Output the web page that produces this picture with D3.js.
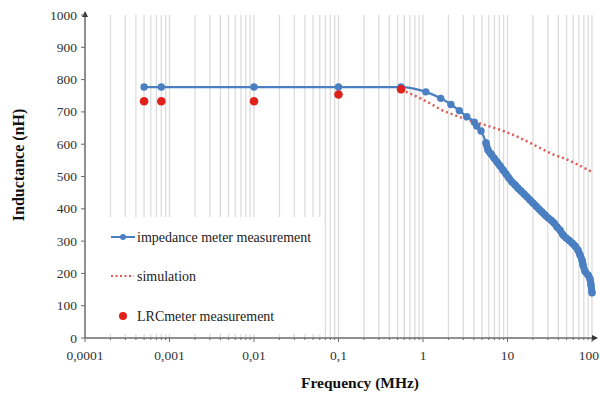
<!DOCTYPE html>
<html>
<head>
<meta charset="utf-8">
<script src="https://cdn.jsdelivr.net/npm/d3@7"></script>
<style>
  html, body { margin: 0; padding: 0; background: #fff; }
  svg { display: block; font-family: "Liberation Serif", "Times New Roman", serif; }
</style>
</head>
<body>
<div id="chart"></div>
<script>
// impedance meter measurement (MHz, nH)
const impFreq = [0.0005, 0.0008, 0.01, 0.1, 0.55, 1.08, 1.62, 2.14, 2.69, 3.29, 4.05, 4.32, 4.86,
  5.57, 5.88, 6.38, 6.92, 7.51, 8.15, 8.85, 9.6, 10.4, 11.3, 12.3, 13.3, 14.4, 15.7, 17.0, 18.5,
  20.0, 21.7, 23.6, 25.6, 27.8, 30.2, 32.7, 35.5, 38.5, 41.8, 45.4, 49.2, 53.4, 58.0, 62.9, 68.3,
  72.1, 76.1, 78.3, 82.6, 89.7, 94.7, 97.3, 100];
const impL = [777, 777, 777, 777, 777, 762, 742, 723, 704, 685, 668, 656, 641,
  604, 582, 570, 557, 545, 533, 520, 508, 495, 483, 474, 464, 455, 446, 437, 427,
  418, 409, 399, 390, 381, 372, 365, 356, 344, 334, 319, 310, 303, 294, 285, 272,
  257, 241, 226, 207, 195, 183, 164, 140];
// from this index on the meter sweep is dense (markers merge into a band)
const denseStart = 13;

// simulation
const simFreq = [0.55, 0.7, 1.0, 1.3, 1.6, 2.2, 3, 4, 6, 10, 15, 24, 35, 50, 70, 100];
const simL = [768, 757, 738, 722, 708, 693, 680, 670, 656, 636, 616, 589, 568, 553, 535, 514];

// LRC meter measurement
const lrcFreq = [0.0005, 0.0008, 0.01, 0.1, 0.55];
const lrcL = [733, 733, 733, 754, 770];

const xTicks = [0.0001, 0.001, 0.01, 0.1, 1, 10, 100];
const xTickLabels = ['0,0001', '0,001', '0,01', '0,1', '1', '10', '100'];
const yTicks = d3.range(0, 1001, 100);

const W = 600, H = 394;
const margin = { top: 15, right: 8, bottom: 56, left: 85 };
const blue = '#4a7fc1', red = '#e0201b', simRed = '#e05a52';

const svg = d3.select('#chart').append('svg')
  .attr('width', W).attr('height', H);

const x = d3.scaleLog().domain([0.0001, 100]).range([margin.left, W - margin.right]);
const y = d3.scaleLinear().domain([0, 1000]).range([H - margin.bottom, margin.top]);

// vertical grid at every log tick
const gridVals = [];
for (let e = -4; e < 2; e++) {
  for (let k = 1; k < 10; k++) gridVals.push(k * Math.pow(10, e));
}
gridVals.push(100);
svg.append('g').selectAll('line')
  .data(gridVals.filter(v => v > 0.0001))
  .enter().append('line')
  .attr('x1', d => x(d)).attr('x2', d => x(d))
  .attr('y1', y(1000)).attr('y2', y(0))
  .attr('stroke', '#dcdcdc')
  .attr('stroke-width', 1.3);

// legend background hides the grid in the lower left
svg.append('rect')
  .attr('x', margin.left + 1).attr('y', 217)
  .attr('width', 236).attr('height', y(0) - 221)
  .attr('fill', '#fff');

// axes
const axisColor = '#6b6b6b';
svg.append('line')
  .attr('x1', x(0.0001)).attr('x2', x(100) + 3)
  .attr('y1', y(0)).attr('y2', y(0))
  .attr('stroke', axisColor).attr('stroke-width', 1.5);
svg.append('path')
  .attr('d', `M${x(100) + 6},${y(0)} l-6,-3 l0,6 z`)
  .attr('fill', '#333');
svg.append('line')
  .attr('x1', x(0.0001)).attr('x2', x(0.0001))
  .attr('y1', y(0)).attr('y2', y(1000) - 1)
  .attr('stroke', axisColor).attr('stroke-width', 1.5);
svg.append('path')
  .attr('d', `M${x(0.0001)},${y(1000) - 4} l-3,6 l6,0 z`)
  .attr('fill', '#333');

// y ticks
const yt = svg.append('g');
yt.selectAll('line').data(yTicks).enter().append('line')
  .attr('x1', margin.left - 4).attr('x2', margin.left)
  .attr('y1', d => y(d)).attr('y2', d => y(d))
  .attr('stroke', axisColor);
yt.selectAll('text').data(yTicks).enter().append('text')
  .attr('x', margin.left - 8).attr('y', d => y(d) + 4.5)
  .attr('text-anchor', 'end')
  .attr('font-size', 13.5)
  .attr('fill', '#333')
  .text(d => d);

// x minor ticks and labels
svg.append('g').selectAll('line').data(gridVals).enter().append('line')
  .attr('x1', d => x(d)).attr('x2', d => x(d))
  .attr('y1', y(0))
  .attr('y2', d => y(0) + (xTicks.includes(d) ? 4 : 2))
  .attr('stroke', axisColor);
svg.append('g').selectAll('text').data(xTicks).enter().append('text')
  .attr('x', d => d === 100 ? W - 1 : x(d)).attr('y', y(0) + 22)
  .attr('text-anchor', d => d === 100 ? 'end' : 'middle')
  .attr('font-size', 13.5)
  .attr('fill', '#333')
  .text((d, i) => xTickLabels[i]);

// axis titles
svg.append('text')
  .attr('x', 360).attr('y', 388)
  .attr('text-anchor', 'middle')
  .attr('font-size', 15.5).attr('font-weight', 'bold')
  .attr('fill', '#111')
  .text('Frequency (MHz)');
svg.append('text')
  .attr('transform', 'translate(24,165) rotate(-90)')
  .attr('text-anchor', 'middle')
  .attr('font-size', 16).attr('font-weight', 'bold')
  .attr('fill', '#111')
  .text('Inductance (nH)');

// simulation dotted line
const simLine = d3.line()
  .x((d, i) => x(simFreq[i])).y(d => y(d))
  .curve(d3.curveMonotoneX);
svg.append('path')
  .attr('d', simLine(simL))
  .attr('fill', 'none')
  .attr('stroke', simRed)
  .attr('stroke-width', 2.5)
  .attr('stroke-dasharray', '2,3');

// impedance meter line + markers
const impLine = d3.line()
  .x(d => x(d[0])).y(d => y(d[1]))
  .curve(d3.curveMonotoneX);
const impPts = impFreq.map((f, i) => [f, impL[i]]);
svg.append('path')
  .attr('d', impLine(impPts))
  .attr('fill', 'none')
  .attr('stroke', blue)
  .attr('stroke-width', 2.2);
svg.append('path')
  .attr('d', impLine(impPts.slice(denseStart)))
  .attr('fill', 'none')
  .attr('stroke', blue)
  .attr('stroke-width', 7)
  .attr('stroke-linecap', 'round')
  .attr('stroke-linejoin', 'round');
svg.append('g').selectAll('circle')
  .data(impPts).enter().append('circle')
  .attr('cx', d => x(d[0])).attr('cy', d => y(d[1]))
  .attr('r', 3.7)
  .attr('fill', blue);

// LRC meter points
svg.append('g').selectAll('circle')
  .data(lrcL).enter().append('circle')
  .attr('cx', (d, i) => x(lrcFreq[i])).attr('cy', d => y(d))
  .attr('r', 4.3)
  .attr('fill', red);

// legend
const lg = svg.append('g').attr('font-size', 14).attr('fill', '#222');
lg.append('line').attr('x1', 111).attr('x2', 135).attr('y1', 237).attr('y2', 237)
  .attr('stroke', blue).attr('stroke-width', 2);
lg.append('circle').attr('cx', 123).attr('cy', 237).attr('r', 3).attr('fill', blue);
lg.append('text').attr('x', 137).attr('y', 241.5).text('impedance meter measurement');
lg.append('line').attr('x1', 111).attr('x2', 134).attr('y1', 276).attr('y2', 276)
  .attr('stroke', simRed).attr('stroke-width', 2).attr('stroke-dasharray', '2,2.5');
lg.append('text').attr('x', 137).attr('y', 280.5).text('simulation');
lg.append('circle').attr('cx', 123).attr('cy', 316).attr('r', 4).attr('fill', red);
lg.append('text').attr('x', 137).attr('y', 320.5).text('LRCmeter measurement');
</script>
</body>
</html>
